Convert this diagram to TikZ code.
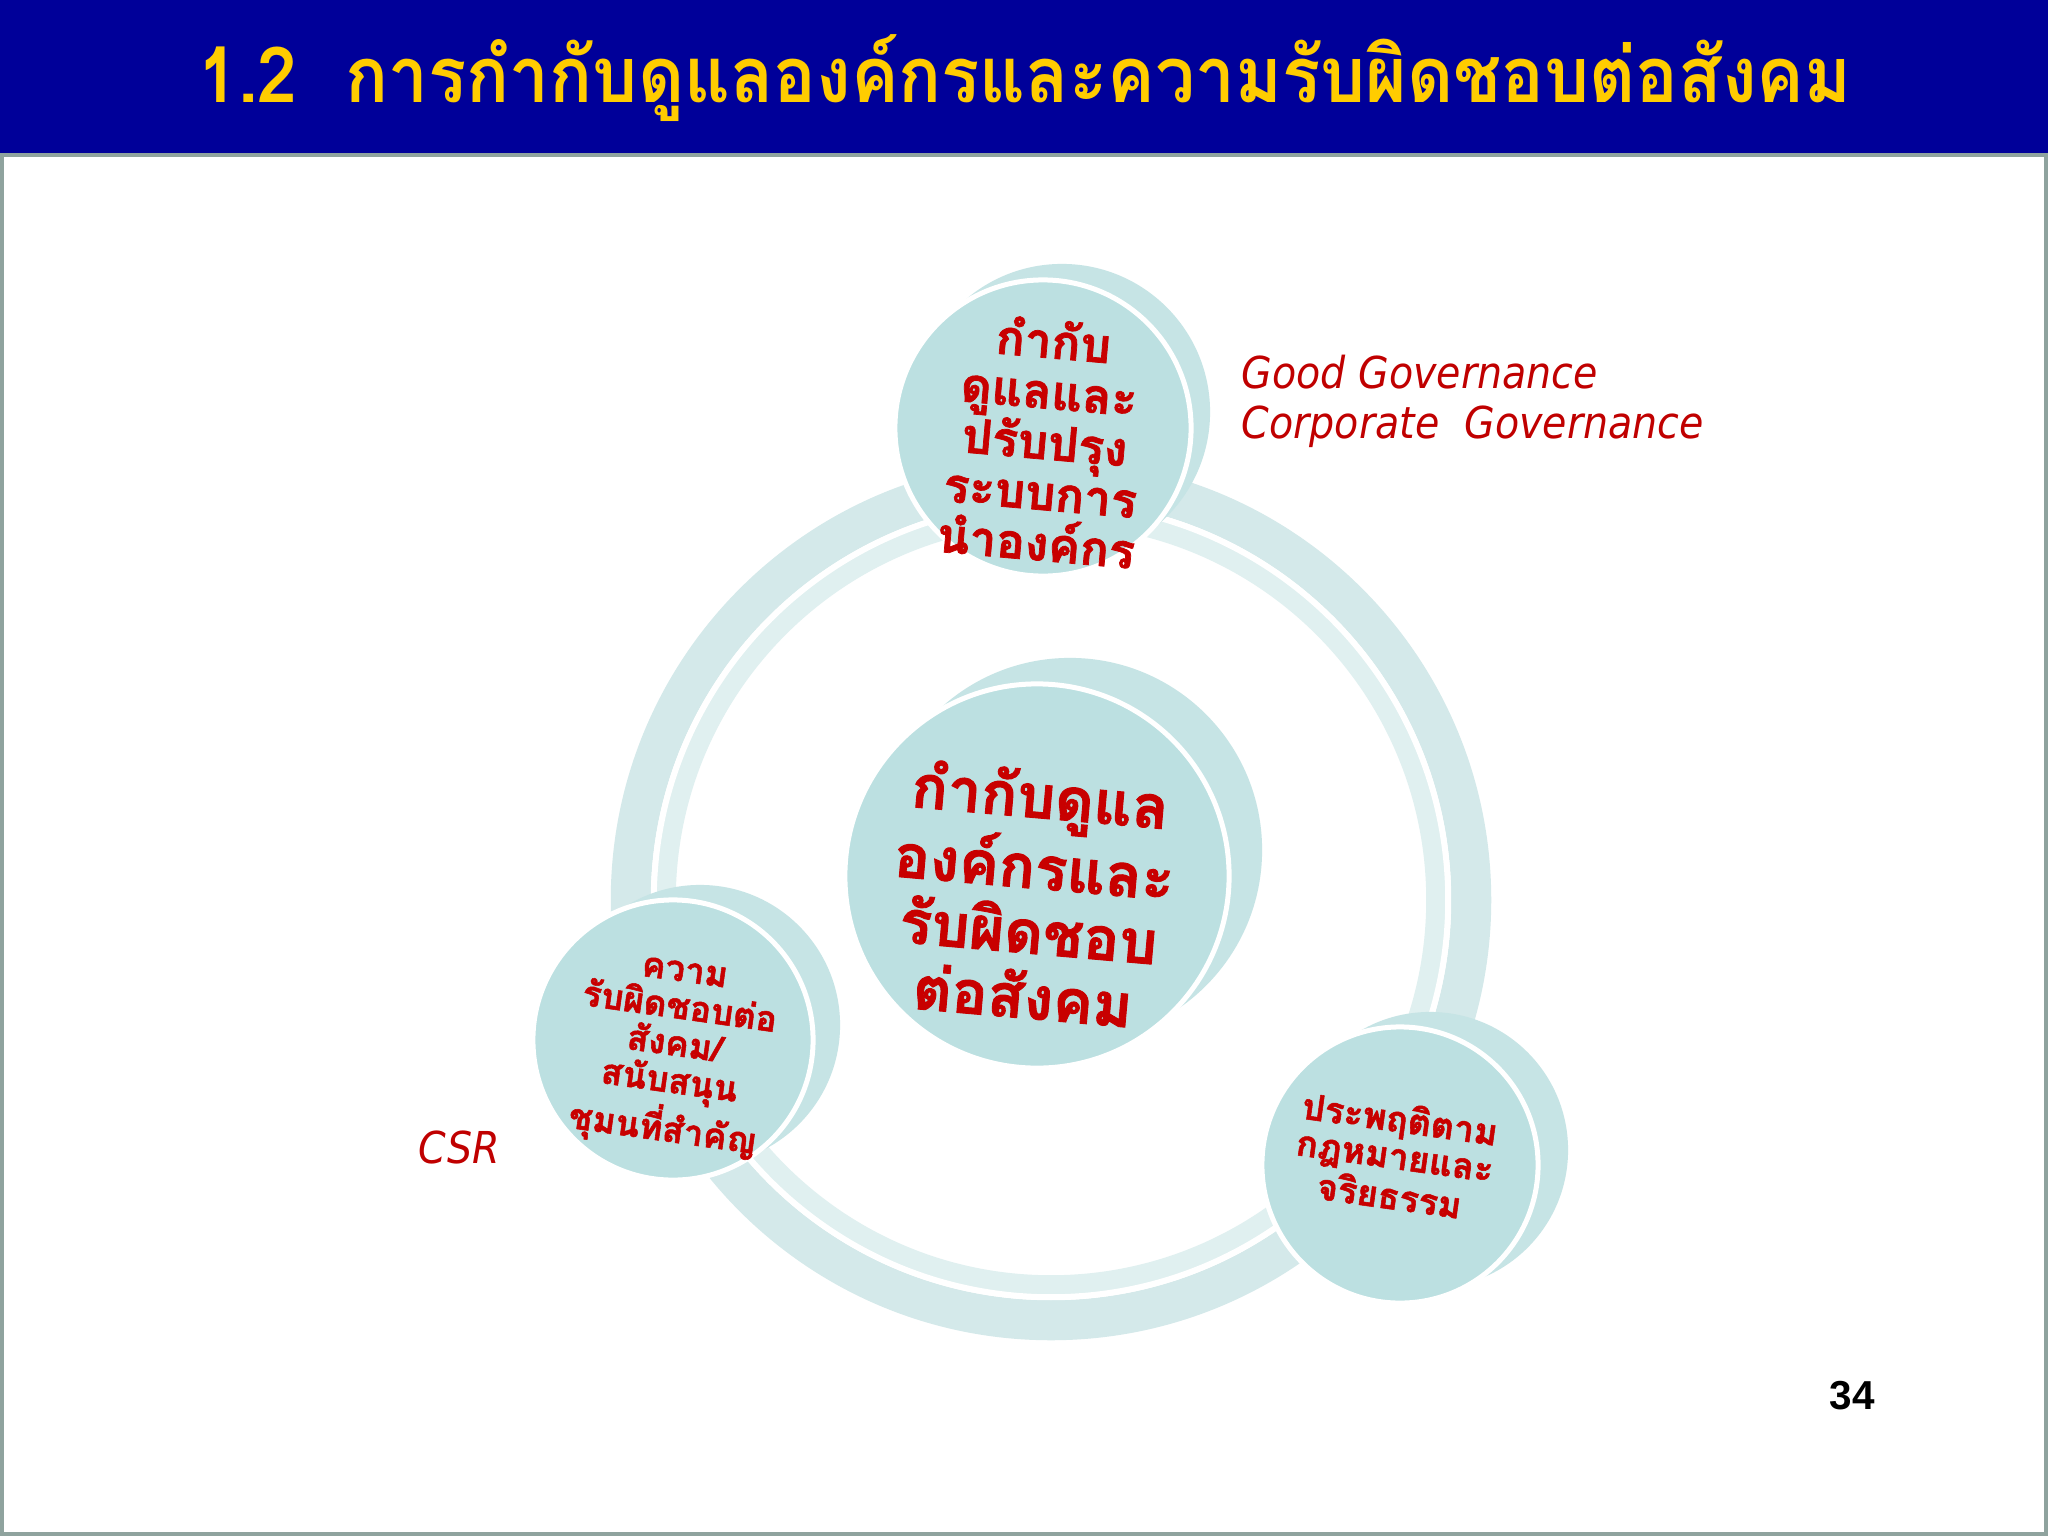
\documentclass[tikz,border=0pt]{standalone}
\usepackage{fontspec}
\setmainfont{DejaVu Sans}
\newfontfamily\thaifont[Script=Thai, BoldFeatures={FakeBold=1.5}]{Loma}
\newfontfamily\titlefont[Script=Thai, FakeStretch=0.92]{Loma}
\newfontfamily\labelfont[FakeStretch=0.9]{DejaVu Sans}
\newfontfamily\numfont{Liberation Sans}
\definecolor{titleblue}{HTML}{000099}
\definecolor{titleyellow}{HTML}{FFCC00}
\definecolor{framegray}{HTML}{8FA39E}
\definecolor{diskfront}{HTML}{BCE0E1}
\definecolor{diskback}{HTML}{C6E4E5}
\definecolor{ringdark}{HTML}{D4E9EA}
\definecolor{ringlight}{HTML}{E0F0F0}
\definecolor{thaired}{HTML}{C80000}
\definecolor{labelred}{HTML}{C00000}
\begin{document}
\begin{tikzpicture}[x=0.01cm, y=-0.01cm,
  ringband/.style={circle, inner sep=0pt, fill=none},
  backdisk/.style={circle, inner sep=0pt, fill=diskback},
  frontdisk/.style={circle, inner sep=0pt, fill=diskfront, draw=white, line width=0.05cm},
  thaitext/.style={text=thaired, align=center},
  englabel/.style={text=labelred, anchor=west, inner sep=0pt,
    font=\labelfont\itshape\fontsize{12.5}{15}\selectfont}]
\useasboundingbox (0,0) rectangle (2048,1536);
\fill[white] (0,0) rectangle (2048,1536);
\fill[titleblue] (0,0) rectangle (2048,155);
\draw[framegray, line width=0.04cm] (2,155) rectangle (2046,1534);
\node[text=titleyellow, font=\titlefont\bfseries\fontsize{22}{26}\selectfont] (title) at (1025,78)
  {1.2\ \ การกำกับดูแลองค์กรและความรับผิดชอบต่อสังคม};

\node[ringband, draw=ringdark, line width=0.4cm, minimum size=8.4cm] (ring) at (1051,900){};
\node[ringband, draw=ringlight, line width=0.2cm, minimum size=7.7cm] (ringin) at (ring.center){};
\node[ringband, draw=white, line width=0.06cm, minimum size=7.94cm] (ringline) at (ring.center){};

\node[backdisk, minimum size=2.96cm] (govern-b) at (1062,412){};
\node[frontdisk, minimum size=2.96cm] (govern) at (1043,428){};
\node[backdisk, minimum size=3.84cm] (core-b) at (1070,850){};
\node[frontdisk, minimum size=3.84cm] (core) at (1037,876){};
\node[backdisk, minimum size=2.8cm] (csrdisk-b) at (700,1025){};
\node[frontdisk, minimum size=2.8cm] (csrdisk) at (673,1040){};
\node[backdisk, minimum size=2.76cm] (law-b) at (1430,1150){};
\node[frontdisk, minimum size=2.76cm] (law) at (1400,1165){};

\node[thaitext, rotate=-5, font=\thaifont\bfseries\fontsize{13.6}{14.4}\selectfont] (govern-t) at (1045,440)
  {กำกับ\\ดูแลและ\\ปรับปรุง\\ระบบการ\\นำองค์กร};
\node[thaitext, rotate=-5, font=\thaifont\bfseries\fontsize{17}{18.5}\selectfont] (core-t) at (1032,894)
  {กำกับดูแล\\องค์กรและ\\รับผิดชอบ\\ต่อสังคม};
\node[thaitext, rotate=-8, font=\thaifont\bfseries\fontsize{10}{10.6}\selectfont] (csrdisk-t) at (673,1056)
  {ความ\\รับผิดชอบต่อ\\สังคม/\\สนับสนุน\\ชุมนที่สำคัญ};
\node[thaitext, rotate=-8, font=\thaifont\bfseries\fontsize{10.2}{10.5}\selectfont] (law-t) at (1395,1156)
  {ประพฤติตาม\\กฎหมายและ\\จริยธรรม};

\node[englabel] (good) at (1241,372) {Good Governance};
\node[englabel] (corp) at (1241,427) {Corporate\ \ Governance};
\node[englabel] (csr) at (418,1147) {CSR};
\node[font=\numfont\bfseries\fontsize{11.5}{13}\selectfont] (pagenum) at (1852,1396) {34};
\end{tikzpicture}
\end{document}
